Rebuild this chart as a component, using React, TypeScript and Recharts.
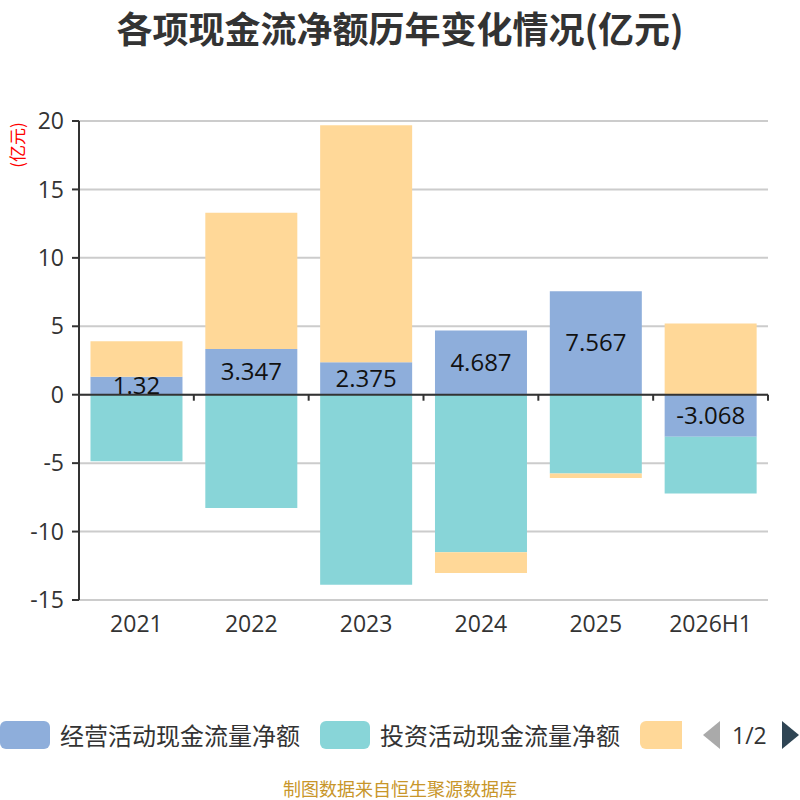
import React from "react";
import { BarChart, Bar, XAxis, YAxis, CartesianGrid, ReferenceLine, LabelList } from "recharts";

const categories = ["2021", "2022", "2023", "2024", "2025", "2026H1"];
const operating = [1.32, 3.347, 2.375, 4.687, 7.567, -3.068];
const investing = [-4.86, -8.27, -13.88, -11.51, -5.76, -4.15];
const financing = [2.59, 9.94, 17.32, -1.52, -0.32, 5.2];
const yTicks = [-15, -10, -5, 0, 5, 10, 15, 20];
const seriesNames = ["经营活动现金流量净额", "投资活动现金流量净额", "筹资活动现金流量净额"];
const colors = ["#8eaedb", "#88d5d8", "#ffd898"];

const data = categories.map((c, i) => ({
  name: c,
  op: operating[i],
  inv: investing[i],
  fin: financing[i],
}));

const FONT = '"Noto Sans CJK SC", "Noto Sans", sans-serif';
const NUM_FONT = '"Open Sans", "Noto Sans", sans-serif';

const ZeroAxis = (props: any) => {
  const { x1, y1, x2 } = props;
  const n = categories.length;
  const step = (x2 - x1) / n;
  const ticks = [];
  for (let i = 0; i <= n; i++) {
    const x = x1 + i * step;
    ticks.push(<line key={i} x1={x} y1={y1} x2={x} y2={y1 + 6} stroke="#333" strokeWidth={2} />);
  }
  return (
    <g>
      <line x1={x1} y1={y1} x2={x2} y2={y1} stroke="#333" strokeWidth={2} />
      {ticks}
    </g>
  );
};

export default function App() {
  return (
    <div style={{ position: "absolute", left: 0, top: 0, width: 800, height: 800, background: "#fff", fontFamily: FONT, overflow: "hidden" }}>
      <div style={{ position: "absolute", left: 0, top: 2, width: 800, textAlign: "center", fontSize: 36, fontWeight: "bold", color: "#333", lineHeight: "50px" }}>
        各项现金流净额历年变化情况(亿元)
      </div>
      <div style={{ position: "absolute", left: -13, top: 134, width: 60, textAlign: "center", transform: "rotate(-90deg)", fontSize: 17, color: "#f00", lineHeight: "22px" }}>
        (亿元)
      </div>
      <BarChart
        width={800}
        height={800}
        data={data}
        stackOffset="sign"
        barCategoryGap="10%"
        margin={{ top: 121, right: 32, left: 9, bottom: 160 }}
        style={{ position: "absolute", left: 0, top: 0 }}
      >
        <CartesianGrid vertical={false} stroke="#ccc" strokeWidth={2} />
        <XAxis
          dataKey="name"
          axisLine={false}
          tickLine={false}
          height={40}
          tick={{ fontSize: 23, fill: "#333", fontFamily: NUM_FONT }}
          tickMargin={10}
        />
        <YAxis
          domain={[-15, 20]}
          ticks={yTicks}
          width={70}
          interval={0}
          axisLine={{ stroke: "#333", strokeWidth: 2 }}
          tickLine={{ stroke: "#333", strokeWidth: 2 }}
          tickSize={7}
          tickMargin={8}
          tick={{ fontSize: 23, fill: "#333", fontFamily: NUM_FONT }}
        />
        <Bar dataKey="op" stackId="a" fill={colors[0]} isAnimationActive={false}>
          <LabelList dataKey="op" position="center" fill="#111" fontSize={24} fontFamily={NUM_FONT} />
        </Bar>
        <Bar dataKey="inv" stackId="a" fill={colors[1]} isAnimationActive={false} />
        <Bar dataKey="fin" stackId="a" fill={colors[2]} isAnimationActive={false} />
        <ReferenceLine y={0} shape={ZeroAxis} ifOverflow="extendDomain" />
      </BarChart>
      <div style={{ position: "absolute", left: 0, top: 717, width: 800, height: 36, overflow: "hidden" }}>
        <div style={{ position: "absolute", left: 0, top: 4, width: 50, height: 28, borderRadius: 6, background: colors[0] }} />
        <div style={{ position: "absolute", left: 60, top: 0, fontSize: 24, color: "#333", lineHeight: "36px", whiteSpace: "nowrap" }}>{seriesNames[0]}</div>
        <div style={{ position: "absolute", left: 320, top: 4, width: 50, height: 28, borderRadius: 6, background: colors[1] }} />
        <div style={{ position: "absolute", left: 380, top: 0, fontSize: 24, color: "#333", lineHeight: "36px", whiteSpace: "nowrap" }}>{seriesNames[1]}</div>
        <div style={{ position: "absolute", left: 640, top: 4, width: 42, height: 28, borderTopLeftRadius: 6, borderBottomLeftRadius: 6, background: colors[2] }} />
        <svg style={{ position: "absolute", left: 700, top: 0 }} width={100} height={36}>
          <polygon points="20,4 3,18 20,32" fill="#aaa" />
          <polygon points="82,4 99,18 82,32" fill="#2f4554" />
        </svg>
        <div style={{ position: "absolute", left: 732, top: 0, fontSize: 23, color: "#333", lineHeight: "36px", fontFamily: NUM_FONT }}>1/2</div>
      </div>
      <div style={{ position: "absolute", left: 0, top: 777, width: 800, textAlign: "center", fontSize: 18, color: "#c8962a", lineHeight: "22px" }}>
        制图数据来自恒生聚源数据库
      </div>
    </div>
  );
}
